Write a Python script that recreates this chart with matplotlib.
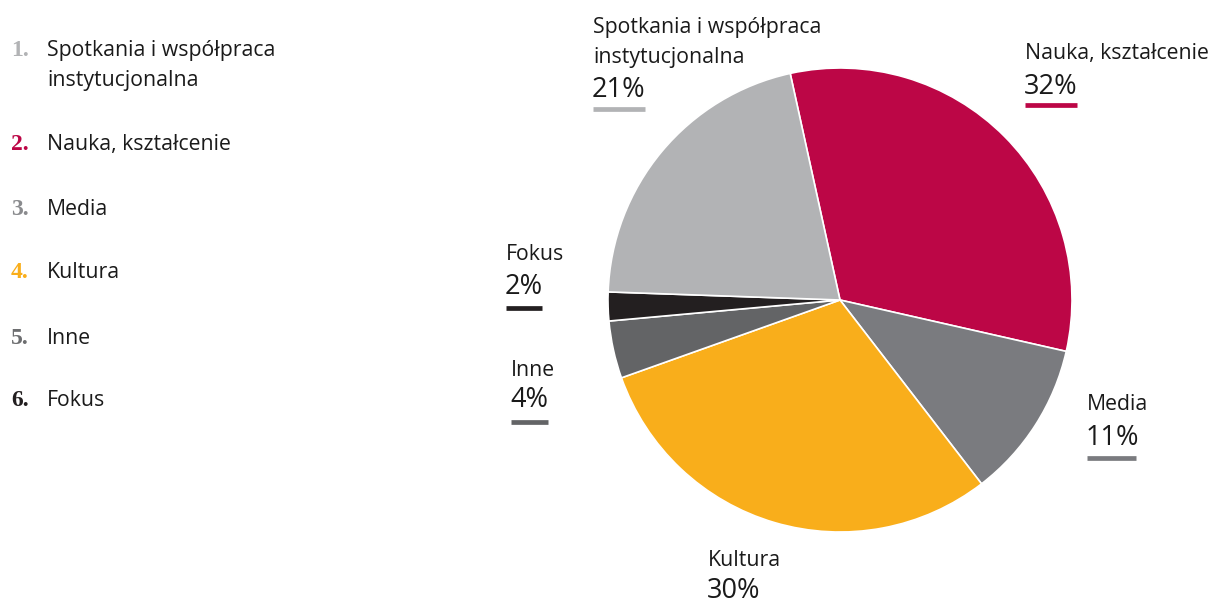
"""
plot.py - wykres kołowy: struktura działań
"""

import matplotlib.pyplot as plt

# ---------------------------
# Dane
# ---------------------------
categories = ["Nauka, kształcenie", "Media", "Kultura", "Inne", "Fokus",
              "Spotkania i współpraca\ninstytucjonalna"]
shares = [32, 11, 30, 4, 2, 21]
colors = ["#BC0646", "#7A7B7F", "#F9AE1B", "#636466", "#231F20", "#B2B3B5"]

legend_labels = ["Spotkania i współpraca\ninstytucjonalna", "Nauka, kształcenie",
                 "Media", "Kultura", "Inne", "Fokus"]
legend_colors = ["#B2B3B5", "#BC0646", "#8A8B8E", "#F9AE1B", "#6D6E70", "#231F20"]

W, H = 1212, 607
FONT = "Open Sans"
TXT = "#1a1a1a"
LINE_STEP = 30  # odstęp między wierszami (px)


def px(x, y):
    """piksele (od góry) -> współrzędne figury"""
    return x / W, 1 - y / H


def multiline(x, y, text, **kw):
    """każdy wiersz osobno, od linii bazowej"""
    for k, line in enumerate(text.split("\n")):
        fig.text(*px(x, y + k * LINE_STEP), line, ha="left", va="baseline", **kw)


fig = plt.figure(figsize=(W / 100, H / 100), dpi=100)

# ---------------------------
# Wykres kołowy
# ---------------------------
cx, cy, r = 840, 300, 232
ax = fig.add_axes([(cx - r) / W, (H - cy - r) / H, 2 * r / W, 2 * r / H])
ax.pie(shares, colors=colors, startangle=102.4, counterclock=False,
       wedgeprops=dict(edgecolor="white", linewidth=1.2))
ax.set_xlim(-1.0, 1.0)
ax.set_ylim(-1.0, 1.0)
ax.set_aspect("equal")
ax.axis("off")

# ---------------------------
# Etykiety przy wykresie
# ---------------------------
# x, linia bazowa nazwy, linia bazowa procentu, y podkreślenia, szer. podkreślenia
label_pos = {
    "Spotkania i współpraca\ninstytucjonalna": (593, 32.5, 96.5, 109, 52),
    "Nauka, kształcenie": (1025, 58.5, 93.5, 104.5, 52),
    "Media": (1087, 410, 445, 458, 49),
    "Kultura": (708, 566, 598.5, None, 0),
    "Fokus": (506, 260.5, 293.5, 307.5, 36),
    "Inne": (511, 376, 407, 422, 37),
}

for cat, val, col in zip(categories, shares, colors):
    x, y_name, y_pct, y_line, lw = label_pos[cat]
    multiline(x, y_name, cat, fontsize=15.3, family=FONT, color=TXT)
    fig.text(*px(x - 1, y_pct), f"{val}%", ha="left", va="baseline",
             fontsize=19.5, family=FONT, color=TXT)
    if y_line is not None:
        fig.add_artist(plt.Line2D([x / W, (x + lw) / W], [1 - y_line / H] * 2,
                                  color=col, linewidth=3.4, solid_capstyle="butt"))

# ---------------------------
# Legenda po lewej
# ---------------------------
legend_y = [56, 150, 215, 278.5, 343.5, 406.5]
for i, (lab, col, y) in enumerate(zip(legend_labels, legend_colors, legend_y)):
    fig.text(*px(11, y), f"{i + 1}.", ha="left", va="baseline", fontsize=17,
             family="Liberation Serif", fontweight="bold", color=col)
    multiline(47, y, lab, fontsize=15.3, family=FONT, color=TXT)

fig.savefig("out.png", dpi=100)
